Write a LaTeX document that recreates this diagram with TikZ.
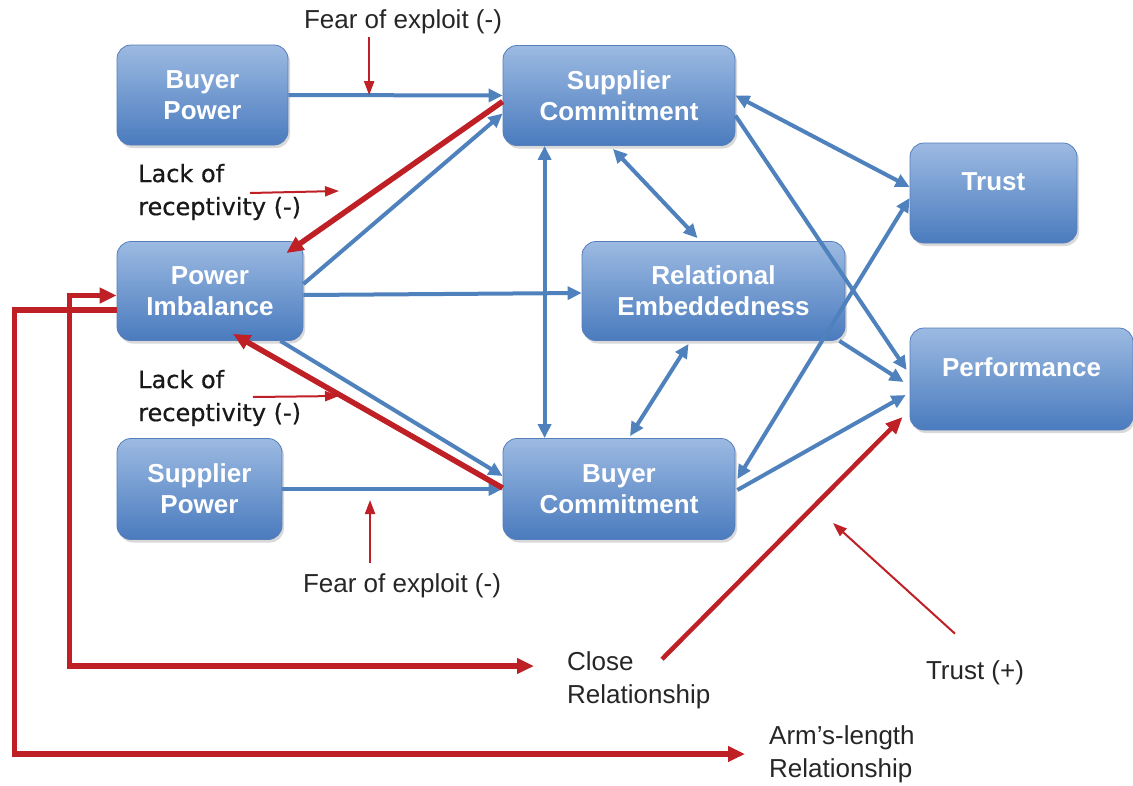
\documentclass[tikz,border=0pt]{standalone}
\usepackage{fontspec}
\setmainfont{Liberation Sans}
\newfontfamily\lackfont[FakeBold=0.6]{DejaVu Sans}
\usetikzlibrary{arrows.meta, calc, shadows}

\definecolor{boxtop}{RGB}{156,186,226}
\definecolor{boxbottom}{RGB}{74,123,190}
\definecolor{boxedge}{RGB}{86,126,186}
\definecolor{linkblue}{RGB}{79,129,189}
\definecolor{linkred}{RGB}{190,32,38}

\begin{document}
\begin{tikzpicture}[
        x=1pt, y=-1pt,
        factor/.style = {
            draw=boxedge, line width=0.8pt,
            rounded corners=14pt,
            top color=boxtop, bottom color=boxbottom,
            drop shadow={shadow xshift=2pt, shadow yshift=-3pt, opacity=0.3},
            text=white, align=center, inner sep=0pt,
            font=\bfseries\fontsize{26}{31}\selectfont
        },
        note/.style = {
            text=black!85, align=left, inner sep=0pt,
            font=\fontsize{26}{33}\selectfont
        },
        lack/.style = {
            text=black!90, align=left, inner sep=0pt,
            font=\lackfont\fontsize{24}{33}\selectfont
        },
        link/.style = {
            draw=linkblue, line width=4pt,
            >={Triangle[length=14pt, width=13pt]}, ->
        },
        twoway/.style = {link, <->},
        feedback/.style = {
            draw=linkred, line width=5.5pt,
            >={Triangle[length=17pt, width=15pt]}, ->
        },
        mutual/.style = {feedback, <->},
        closelink/.style = {
            draw=linkred, line width=4.5pt,
            >={Triangle[length=17pt, width=14pt]}, ->
        },
        fear/.style = {
            draw=linkred, line width=2pt,
            >={Triangle[length=14pt, width=10pt]}, ->
        }
    ]
    \useasboundingbox (0,0) rectangle (1133,785);

    % factors
    \node[factor, minimum width=171pt, minimum height=100pt] (bp) at (202.5,95) {Buyer\\Power};
    \node[factor, minimum width=186pt, minimum height=99pt] (pi) at (210,291) {Power\\Imbalance};
    \node[factor, minimum width=165pt, minimum height=101pt] (sp) at (199.5,489) {Supplier\\Power};
    \node[factor, minimum width=232pt, minimum height=100pt] (sc) at (619,95.5) {Supplier\\Commitment};
    \node[factor, minimum width=263pt, minimum height=99pt] (re) at (713.5,291) {Relational\\Embeddedness};
    \node[factor, minimum width=232pt, minimum height=101pt] (bc) at (619,489) {Buyer\\Commitment};
    \node[factor, minimum width=167pt, minimum height=100pt] (tr) at (993.5,193) {Trust\\[-8pt]~};
    \node[factor, minimum width=223pt, minimum height=102pt] (pf) at (1021.5,379) {Performance\\[-8pt]~};

    % labels
    \node[note] (fe1) at (403,22) {Fear of exploit (-)};
    \node[note] (fe2) at (402,586) {Fear of exploit (-)};
    \node[lack, anchor=west] (lr1) at (138,192) {Lack of\\receptivity (-)};
    \node[lack, anchor=west] (lr2) at (138,398) {Lack of\\receptivity (-)};
    \node[note, anchor=west] (cr) at (567,680) {Close\\Relationship};
    \node[note, anchor=west] (al) at (769,754) {Arm’s-length\\Relationship};
    \node[note] (tp) at (975,673) {Trust (+)};

    % blue links
    \draw[link] (bp.east) -- coordinate[pos=0.377] (fearA) (sc.west);
    \draw[link] (sp.east) -- coordinate[pos=0.398] (fearB) (bc.west);
    \draw[link] ($(pi.east)+(0,-7)$) -- ($(sc.west)+(0,18)$);
    \draw[link] ($(pi.east)+(0,4)$) -- ($(re.west)+(0,2)$);
    \draw[link] ($(pi.south east)+(-23,0)$) -- ($(bc.west)+(0,-13)$);
    \draw[twoway] ($(sc.south west)+(42,0)$) -- ($(bc.north west)+(42,0)$);
    \draw[twoway] ($(sc.south)+(-6,3)$) -- ($(re.north)+(-16,-3)$);
    \draw[twoway] ($(re.south)+(-25,3)$) -- ($(bc.north)+(11,-2)$);
    \draw[twoway] (sc.east) -- ($(tr.west)+(0,-6)$);
    \draw[link] ($(sc.east)+(0,20)$) -- ($(pf.west)+(-3,-9)$);
    \draw[link] ($(re.south east)+(-6,0)$) -- ($(pf.west)+(-6,3)$);
    \draw[link] ($(bc.east)+(2,1)$) -- ($(pf.west)+(-4,16)$);
    \draw[twoway] ($(bc.east)+(2,-10)$) -- ($(tr.west)+(0,5)$);

    % red links
    \draw[feedback] ($(sc.west)+(0,6)$) -- ($(pi.north east)+(-17,12)$);
    \draw[feedback] ($(bc.west)+(0,-1)$) -- ($(pi.south)+(23,-7)$);
    \draw[feedback] ($(pi.west)+(0,19)$) -- ++(-102,0) |- ($(al.west)+(-24,0)$);
    \draw[mutual] ($(pi.west)+(0,4.5)$) -- ++(-47,0) |- ($(cr.west)+(-33,-14)$);
    \draw[closelink] ($(cr.north west)+(95,8)$) -- ($(pf.west)+(-7,38)$);
    \draw[fear] ($(fe1.south -| fearA)+(0,3)$) -- (fearA);
    \draw[fear] ($(fe2.north -| fearB)+(0,-11)$) -- ($(fearB)+(0,11)$);

    \coordinate (lackAtip) at (339,191);
    \coordinate (lackBtip) at (339,396);
    \coordinate (trustTip) at (833,523);
    \draw[fear] ($(lr1.west)+(112,1)$) -- (lackAtip);
    \draw[fear] ($(lr2.west)+(115,-1)$) -- (lackBtip);
    \draw[fear] ($(tp.north)+(-20,-27)$) -- (trustTip);
\end{tikzpicture}
\end{document}
